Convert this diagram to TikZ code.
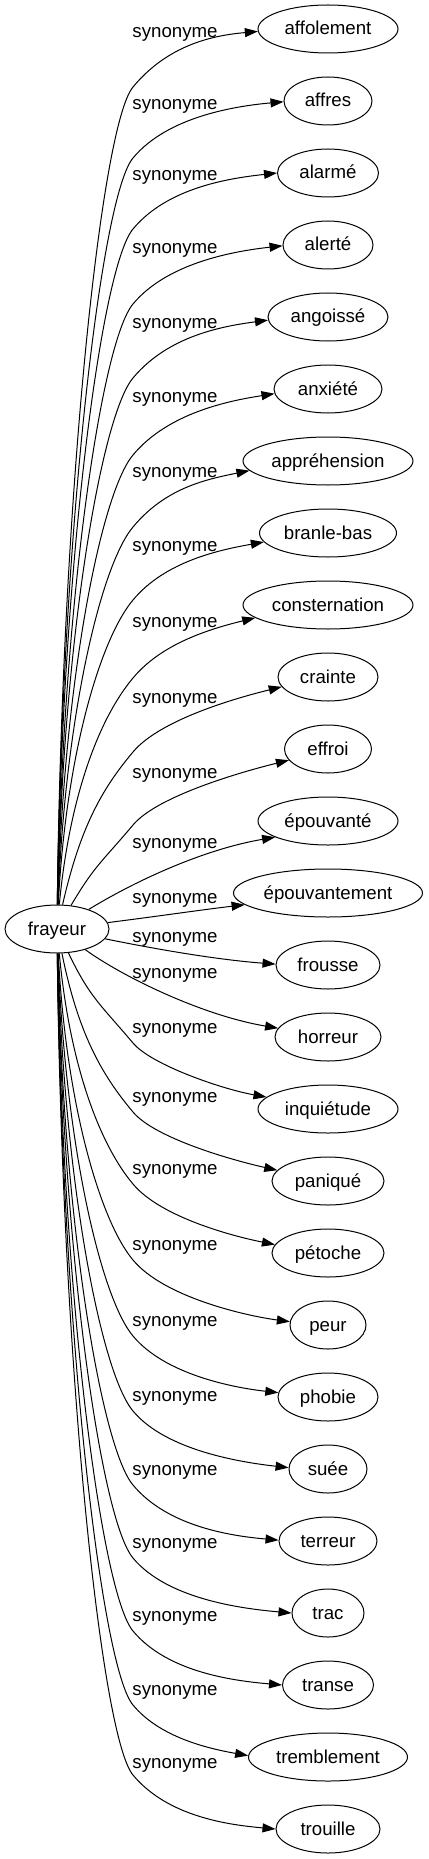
\documentclass[tikz,border=0pt]{standalone}
\usepackage{fontspec}
\setmainfont{Liberation Sans}
\usetikzlibrary{shapes.geometric,arrows.meta,calc}
\newcommand{\upedge}[8]{%
  \draw[synedge] (frayeur) .. controls (#4,{(905+#3)/2}) and (101,{#3+38}) .. (133,#3) .. controls ({133+0.64*#8},{#3-0.77*#8}) and ($(#2.#5)+(-45,#6)$) .. (#2.#5);
  \node[lbl] (#1) at (175,#7) {synonyme};}
\newcommand{\loedge}[8]{%
  \draw[synedge] (frayeur) .. controls (#4,{(953+#3)/2}) and (101,{#3-38}) .. (133,#3) .. controls ({133+0.64*#8},{#3+0.77*#8}) and ($(#2.#5)+(-45,#6)$) .. (#2.#5);
  \node[lbl] (#1) at (175,#7) {synonyme};}
\begin{document}
\begin{tikzpicture}[x=1pt,y=-1pt,
  every node/.style={font=\fontsize{18.67pt}{22pt}\selectfont},
  tgt/.style={draw, ellipse, inner sep=0pt, minimum height=48pt, text height=14pt, text depth=2pt, line width=1pt},
  lbl/.style={anchor=base, inner sep=0pt},
  synedge/.style={line width=1pt, -{Triangle[length=13pt,width=9pt]}}]
\useasboundingbox (0,0) rectangle (428,1859);
\node[tgt, minimum width=104pt] (frayeur) at (57,929) {frayeur};
\node[tgt, minimum width=140pt] (affolement) at (328,29) {affolement};
\node[tgt, minimum width=88pt] (affres) at (328,101) {affres};
\node[tgt, minimum width=101pt] (alarme) at (328,173) {alarmé};
\node[tgt, minimum width=90pt] (alerte) at (328,245) {alerté};
\node[tgt, minimum width=120pt] (angoisse) at (328,317) {angoissé};
\node[tgt, minimum width=108pt] (anxiete) at (328,389) {anxiété};
\node[tgt, minimum width=170pt] (apprehension) at (328,461) {appréhension};
\node[tgt, minimum width=137pt] (branlebas) at (328,533) {branle-bas};
\node[tgt, minimum width=170pt] (consternation) at (328,605) {consternation};
\node[tgt, minimum width=100pt] (crainte) at (328,677) {crainte};
\node[tgt, minimum width=87pt] (effroi) at (328,749) {effroi};
\node[tgt, minimum width=140pt] (epouvante) at (328,821) {épouvanté};
\node[tgt, minimum width=189pt] (epouvantement) at (328,893) {épouvantement};
\node[tgt, minimum width=104pt] (frousse) at (328,965) {frousse};
\node[tgt, minimum width=106pt] (horreur) at (328,1037) {horreur};
\node[tgt, minimum width=140pt] (inquietude) at (328,1109) {inquiétude};
\node[tgt, minimum width=112pt] (panique) at (328,1181) {paniqué};
\node[tgt, minimum width=112pt] (petoche) at (328,1253) {pétoche};
\node[tgt, minimum width=76pt] (peur) at (328,1325) {peur};
\node[tgt, minimum width=100pt] (phobie) at (328,1397) {phobie};
\node[tgt, minimum width=78pt] (suee) at (328,1469) {suée};
\node[tgt, minimum width=98pt] (terreur) at (328,1541) {terreur};
\node[tgt, minimum width=72pt] (trac) at (328,1613) {trac};
\node[tgt, minimum width=91pt] (transe) at (328,1685) {transe};
\node[tgt, minimum width=159pt] (tremblement) at (328,1757) {tremblement};
\node[tgt, minimum width=104pt] (trouille) at (328,1829) {trouille};
\upedge{l1}{affolement}{87}{62}{182}{4}{38}{55}
\upedge{l2}{affres}{158}{62}{181}{4}{110}{55}
\upedge{l3}{alarme}{229}{62}{180}{5}{181}{55}
\upedge{l4}{alerte}{304}{63}{181}{5}{254}{55}
\upedge{l5}{angoisse}{378}{63}{183}{6}{328}{55}
\upedge{l6}{anxiete}{455}{64}{185}{7}{402}{55}
\upedge{l7}{apprehension}{527}{65}{187}{9}{477}{50}
\upedge{l8}{branlebas}{600}{66}{188}{8}{551}{50}
\upedge{l9}{consternation}{678}{70}{190}{11}{627}{45}
\upedge{l10}{crainte}{752}{80}{192}{11}{703}{42}
\upedge{l11}{effroi}{825}{95}{196}{11}{778}{38}
\draw[synedge] (frayeur) .. controls (130,884) and (200,850) .. (epouvante.197);
\node[lbl] (l12) at (175,848) {synonyme};
\draw[synedge] (frayeur) .. controls (160,916) and (200,910) .. (epouvantement.188);
\node[lbl] (l13) at (175,903) {synonyme};
\draw[synedge] (frayeur) .. controls (160,950) and (220,960) .. (frousse.179);
\node[lbl] (l14) at (175,942) {synonyme};
\draw[synedge] (frayeur) .. controls (120,975) and (200,1015) .. (horreur.170);
\node[lbl] (l15) at (175,978) {synonyme};
\loedge{l16}{inquietude}{1043}{90}{169}{-8}{1033}{28}
\loedge{l17}{panique}{1112}{78}{168}{-10}{1102}{34}
\loedge{l18}{petoche}{1184}{70}{171}{-9}{1174}{42}
\loedge{l19}{peur}{1260}{66}{175}{-6}{1250}{48}
\loedge{l20}{phobie}{1336}{65}{175}{-5}{1326}{50}
\loedge{l21}{suee}{1411}{64}{178}{-5}{1401}{52}
\loedge{l22}{terreur}{1485}{63}{179}{-4}{1475}{55}
\loedge{l23}{trac}{1558}{63}{180}{-4}{1548}{55}
\loedge{l24}{transe}{1631}{62}{180}{-4}{1621}{55}
\loedge{l25}{tremblement}{1705}{62}{179}{-8}{1695}{40}
\loedge{l26}{trouille}{1775}{62}{180}{-4}{1768}{55}
\end{tikzpicture}
\end{document}
